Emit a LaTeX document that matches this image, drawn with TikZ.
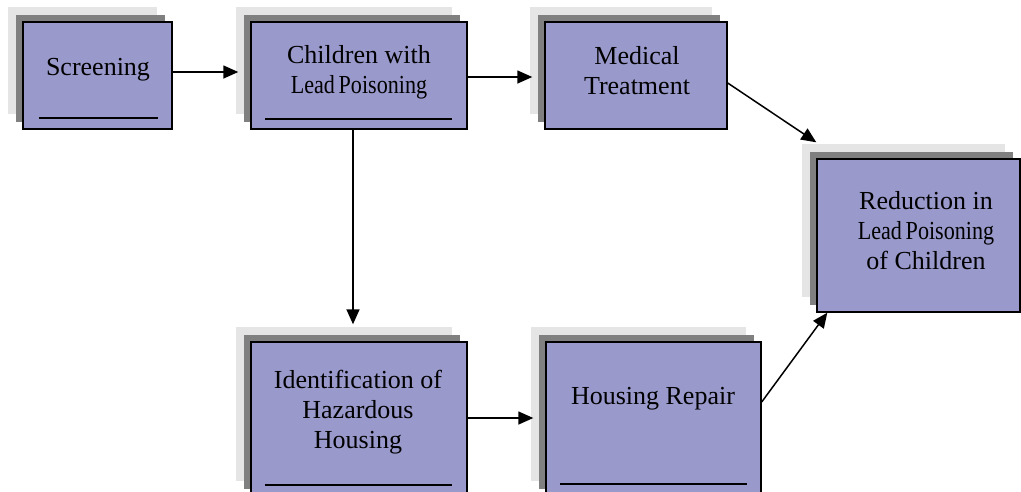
\documentclass[tikz,border=0pt]{standalone}
\usepackage{fontspec}
\setmainfont{Liberation Serif}
\usetikzlibrary{arrows.meta,shadows}
\definecolor{boxfill}{RGB}{153,153,204}
\definecolor{shadowdark}{RGB}{128,128,128}
\definecolor{shadowlight}{RGB}{229,229,229}
% tightly set phrase, as printed in the chart
\newcommand{\leadpois}{\scalebox{0.85}[1]{Lead\,Poisoning}}
\begin{document}
\begin{tikzpicture}[x=1pt,y=-1pt,
  box/.style={draw=black, line width=1.4pt, fill=boxfill, inner sep=0pt,
    general shadow={fill=shadowlight, draw=none, shadow xshift=-15pt, shadow yshift=15pt},
    general shadow={fill=shadowdark, draw=none, shadow xshift=-7.5pt, shadow yshift=7.5pt}},
  lbl/.style={align=center, inner sep=0pt, text=black, font=\fontsize{26}{30}\selectfont},
  uline/.style={line width=2.2pt, draw=black},
  arr/.style={line width=1.5pt, draw=black, -{Triangle[length=15pt,width=13pt]}}]
\useasboundingbox (0,0) rectangle (1021,491);
\clip (0,0) rectangle (1021,491);

% boxes
\node[box, minimum width=149pt, minimum height=107pt] (scr) at (97.5,75.5) {};
\node[box, minimum width=216pt, minimum height=107pt] (chi) at (359,75.5) {};
\node[box, minimum width=182pt, minimum height=107pt] (med) at (636,75.5) {};
\node[box, minimum width=203pt, minimum height=153pt] (red) at (918.5,235.5) {};
\node[box, minimum width=216pt, minimum height=154pt] (ide) at (359,419) {};
\node[box, minimum width=215pt, minimum height=154pt] (hou) at (653.5,419) {};

% labels
\node[lbl] (scr-t) at (98,70) {Screening};
\node[lbl] (chi-t) at (359,72) {Children with\\\leadpois};
\node[lbl] (med-t) at (637,70.5) {Medical\\Treatment};
\node[lbl] (red-t) at (926,230.5) {Reduction in\\\leadpois\\of Children};
\node[lbl] (ide-t) at (358,412.5) {Identification of\\Hazardous\\Housing};
\node[lbl] (hou-t) at (653,399) {Housing Repair};

% underlines
\draw[uline] ([xshift=17pt,yshift=12pt]scr.south west) -- ([xshift=-15pt,yshift=12pt]scr.south east);
\draw[uline] ([xshift=15pt,yshift=11pt]chi.south west) -- ([xshift=-16pt,yshift=11pt]chi.south east);
\draw[uline] ([xshift=15pt,yshift=12pt]ide.south west) -- ([xshift=-16pt,yshift=12pt]ide.south east);
\draw[uline] ([xshift=15pt,yshift=13pt]hou.south west) -- ([xshift=-15pt,yshift=13pt]hou.south east);

% connectors
\draw[arr] ([yshift=3.5pt]scr.east) -- ([xshift=-12pt,yshift=3.5pt]chi.west);
\draw[arr] ([yshift=-1.5pt]chi.east) -- ([xshift=-12pt,yshift=-1.5pt]med.west);
\draw[arr] ([xshift=-6pt]chi.south) -- ([xshift=-6pt,yshift=17pt]ide.north);
\draw[arr] ([yshift=1pt]ide.east) -- ([xshift=-12pt,yshift=1pt]hou.west);
\draw[arr] ([yshift=-7.5pt]med.east) -- ([yshift=16pt]red.north west);
\draw[arr] ([yshift=17pt]hou.east) -- ([xshift=11pt]red.south west);
\end{tikzpicture}
\end{document}
